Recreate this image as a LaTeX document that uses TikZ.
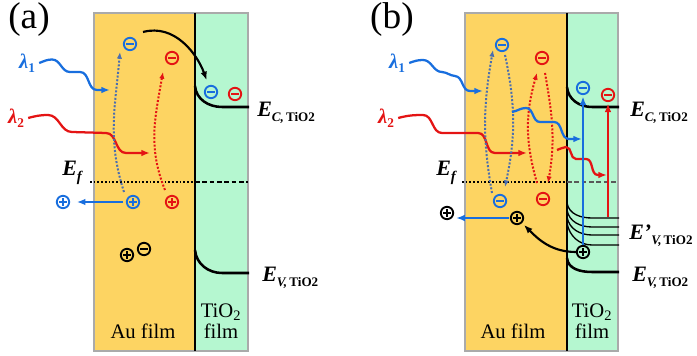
\documentclass[tikz,border=0pt]{standalone}
\usepackage{fontspec}
\setmainfont{Liberation Serif}
\usepackage{tikz}
\usetikzlibrary{arrows.meta}
\definecolor{aufilm}{RGB}{253,212,98}
\definecolor{tifilm}{RGB}{181,247,208}
\definecolor{edge}{RGB}{170,170,170}
\definecolor{photblue}{RGB}{24,110,222}
\definecolor{photred}{RGB}{228,20,20}
\definecolor{dotblue}{RGB}{75,110,175}

\newcommand{\Eband}[2]{{\fontsize{16.5}{16.5}\selectfont\bfseries\itshape E#1}\raisebox{-3.5pt}{\fontsize{9.8}{9.8}\selectfont\bfseries\itshape #2,\,\upshape TiO2}}
\newcommand{\Efermi}{{\fontsize{16.5}{16.5}\selectfont\bfseries\itshape E}\raisebox{-4pt}{\fontsize{11}{11}\selectfont\bfseries\itshape f}}
\newcommand{\lam}[1]{{\fontsize{15.5}{15.5}\selectfont\bfseries\itshape λ}\raisebox{-3pt}{\fontsize{10}{10}\selectfont\bfseries #1}}

\begin{document}
\begin{tikzpicture}[x=0.75pt, y=0.75pt,
   chg/.style={circle, draw, line width=1.4pt, minimum size=9.3pt, inner sep=0pt},
   elec/.style={chg, path picture={\draw[line width=1.5pt]
       ([xshift=-2.7pt]path picture bounding box.center) -- ([xshift=2.7pt]path picture bounding box.center);}},
   hole/.style={chg, path picture={\draw[line width=1.1pt]
       ([xshift=-3pt]path picture bounding box.center) -- ([xshift=3pt]path picture bounding box.center)
       ([yshift=-3pt]path picture bounding box.center) -- ([yshift=3pt]path picture bounding box.center);}},
   wav/.style={line width=1.7pt, -{Latex[length=6.5pt,width=5pt]}},
   blk/.style={line width=1.6pt, -{Latex[length=6.5pt,width=5pt]}},
   dotc/.style={line width=1.5pt, dash pattern=on 1.5pt off 1.3pt, -{Latex[length=5pt,width=4pt]}},
   band/.style={line width=1.9pt},
   thinband/.style={line width=1pt},
   efdot/.style={line width=1.3pt, dash pattern=on 1.3pt off 1.5pt},
   efdash/.style={line width=1.3pt, dash pattern=on 3.5pt off 2pt},
   lab/.style={inner sep=0pt, anchor=base west},
   lamlab/.style={inner sep=0pt},
   film/.style={inner sep=0pt, align=center, font=\fontsize{15.5}{15.75}\selectfont},
   panel/.style={inner sep=0pt, font=\fontsize{28}{28}\selectfont}]
  \useasboundingbox (0,0) rectangle (697,-356);

  % ---- panel (a)
  \fill[aufilm] (94,-13) rectangle (195,-351);
  \fill[tifilm] (195,-13) rectangle (248,-351);
  \draw[edge, line width=1.2pt] (94,-13) rectangle (248,-351);
  \draw[line width=1.9pt] (195,-13) -- (195,-351);
  \draw[efdot] (90,-182) -- (195,-182);
  \draw[efdash] (195,-182) -- (248,-182);
  \draw[band] (195,-86) to[out=-85,in=180] (222,-107) -- (249,-107);
  \draw[band] (195,-250) to[out=-85,in=180] (222,-273) -- (249,-273);

  \node[panel] (pa) at (29,-20) {(a)};
  \node[film] (au1) at (143,-331) {Au film};
  \node[film] (ti1) at (221,-321) {TiO\textsubscript{2}\\film};
  \node[lab] (ec1) at (257,-117) {\Eband{}{C}};
  \node[lab] (ev1) at (262,-282) {\Eband{}{V}};
  \node[lab] (ef1) at (62,-176) {\Efermi};
  \node[lamlab, photblue] (l1a) at (27,-63) {\lam{1}};
  \node[lamlab, photred] (l2a) at (16,-118) {\lam{2}};

  \node[elec, photblue] (mb1) at (130,-44) {};
  \node[elec, photred] (mr1) at (172,-58) {};
  \node[elec, photblue] (mb2) at (211,-92) {};
  \node[elec, photred] (mr2) at (235,-94) {};
  \node[hole, photblue] (pb1) at (133,-202) {};
  \node[hole, photblue] (pb0) at (63,-202) {};
  \node[hole, photred] (pr1) at (172,-202) {};
  \node[hole] (pk1) at (127,-255) {};
  \node[elec] (mk1) at (144,-249) {};

  \coordinate (h1a) at (110,-90);
  \coordinate (h2a) at (150,-153);
  \draw[wav, photblue] ([xshift=3pt]l1a.east) to[out=20,in=180] (52,-59.5) to[out=0,in=180] (70,-72)
     -- (80,-72) to[out=0,in=180] (97,-90) -- (h1a);
  \draw[wav, photred] ([xshift=3pt]l2a.east) to[out=15,in=180] (48,-115) to[out=0,in=180] (72,-132)
     -- (106,-133) to[out=0,in=180] (126,-153) -- (h2a);
  \draw[dotc, dotblue] ([shift={(-9,10)}]pb1.center) to[out=108,in=-95] ([shift={(-10,-8)}]mb1.center);
  \draw[dotc, photred] ([shift={(-7,12)}]pr1.center) to[out=112,in=-100] ([shift={(-9,-14)}]mr1.center);
  \draw[blk, shorten >=4pt] ([shift={(13,12)}]mb1.center) to[out=15,in=110] (mb2);
  \draw[wav, photblue, shorten <=2pt, shorten >=5pt] (pb1) -- (pb0);

  % ---- panel (b)
  \fill[aufilm] (465,-13) rectangle (567,-351);
  \fill[tifilm] (567,-13) rectangle (618,-351);
  \draw[edge, line width=1.2pt] (465,-13) rectangle (618,-351);
  \draw[line width=1.9pt] (567,-13) -- (567,-351);
  \draw[efdot] (462,-182) -- (567,-182);
  \draw[efdash, black!65] (567,-182) -- (618,-182);
  \draw[band] (567,-87) to[out=-85,in=180] (592,-107) -- (619,-107);
  \foreach \ys/\ye in {203/218, 210/227, 217/235, 223/245}
    \draw[thinband] (567,-\ys) to[out=-80,in=180] (592,-\ye) -- (619,-\ye);
  \draw[band] (567,-258) to[out=-85,in=180] (592,-272) -- (619,-272);

  \node[panel] (pb) at (392,-20) {(b)};
  \node[film] (au2) at (513,-331) {Au film};
  \node[film] (ti2) at (592,-321) {TiO\textsubscript{2}\\film};
  \node[lab] (ec2) at (630,-117) {\Eband{}{C}};
  \node[lab] (evp) at (629,-240) {\Eband{'}{V}};
  \node[lab] (ev2) at (632,-282) {\Eband{}{V}};
  \node[lab] (ef2) at (436,-176) {\Efermi};
  \node[lamlab, photblue] (l1b) at (397,-63) {\lam{1}};
  \node[lamlab, photred] (l2b) at (386,-118) {\lam{2}};

  \node[elec, photblue] (mb3) at (502,-45) {};
  \node[elec, photblue] (mb4) at (500,-201) {};
  \node[elec, photred] (mr3) at (542,-58) {};
  \node[elec, photred] (mr4) at (543,-199) {};
  \node[elec, photblue] (mb5) at (583,-88) {};
  \node[elec, photred] (mr5) at (608,-95) {};
  \node[hole, fill=tifilm] (pk2) at (583,-252) {};
  \node[hole] (pk3) at (517,-218) {};
  \node[hole] (pk4) at (447,-213) {};

  \coordinate (h1b) at (483,-91);
  \coordinate (h2b) at (527,-153);
  \coordinate (s1b) at (512,-112);
  \coordinate (h3b) at (582,-139);
  \coordinate (s2b) at (557,-150);
  \coordinate (h4b) at (607,-175);
  \coordinate (rs) at (608,-217);
  \draw[wav, photblue] ([xshift=3pt]l1b.east) to[out=20,in=180] (423,-60) to[out=0,in=180] (442,-72)
     to[out=-5,in=175] (455,-76) to[out=-5,in=180] (470,-91) -- (h1b);
  \draw[wav, photred] ([xshift=3pt]l2b.east) to[out=15,in=180] (423,-115) to[out=0,in=180] (442,-133)
     -- (478,-133) to[out=0,in=180] (495,-153) -- (h2b);
  \draw[dotc, dotblue] ([shift={(-8,8)}]mb4.center) to[out=100,in=-100] ([shift={(-9,-5)}]mb3.center);
  \draw[dotc, dotblue] ([shift={(3,-10)}]mb3.center) to[out=-78,in=78] ([shift={(5,14)}]mb4.center);
  \draw[dotc, photred] ([shift={(-6,16)}]mr4.center) to[out=106,in=-106] ([shift={(-5,-15)}]mr3.center);
  \draw[dotc, photred] ([shift={(3,-15)}]mr3.center) to[out=-80,in=80] ([shift={(5,16)}]mr4.center);
  \draw[wav, photblue] (s1b) to[out=10,in=180] (526,-108) to[out=0,in=180] (540,-122)
     -- (554,-122) to[out=0,in=180] (569,-139) -- (h3b);
  \draw[wav, photred] (s2b) to[out=10,in=180] (566,-147) to[out=0,in=180] (576,-159)
     -- (586,-159) to[out=0,in=180] (598,-175) -- (h4b);
  \draw[wav, photblue, shorten >=1pt] (pk2) -- (mb5);
  \draw[wav, photred, shorten >=1pt] (rs) -- (mr5);
  \draw[blk, shorten >=2pt] (pk2) to[out=180,in=-45] (pk3);
  \draw[wav, photblue, shorten <=1pt, shorten >=1.5pt] (pk3.west) -- (pk3.west -| pk4.east);
\end{tikzpicture}
\end{document}
